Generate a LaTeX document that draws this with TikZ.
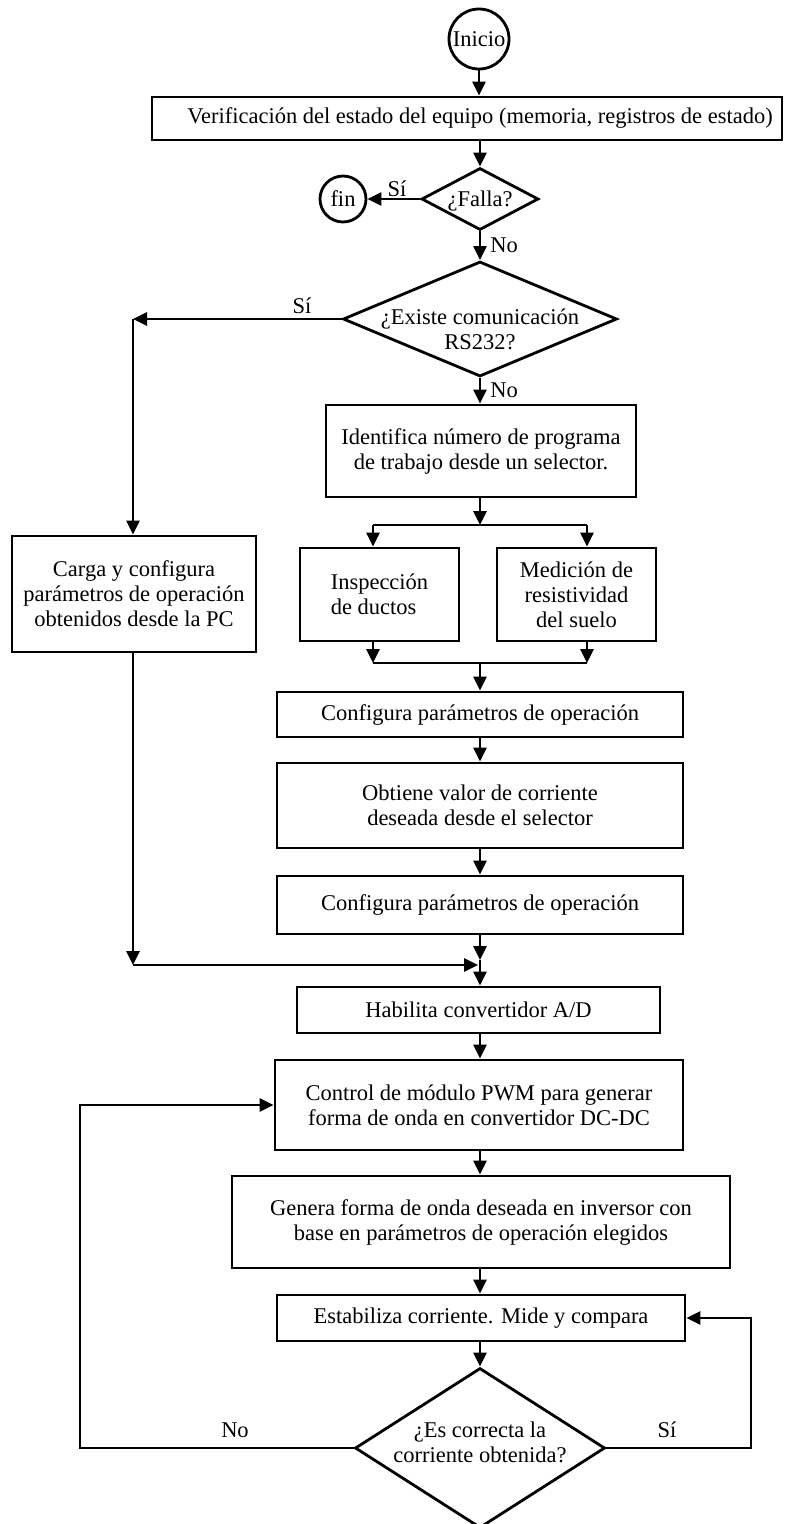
\documentclass[tikz,border=0pt]{standalone}
\usepackage{fontspec}
\setmainfont{Liberation Serif}
\usetikzlibrary{arrows.meta,shapes.geometric}
\begin{document}
\begin{tikzpicture}[x=1pt,y=-1pt,line width=2.8pt,
  box/.style={draw,rectangle,inner sep=0pt,align=center,font=\fontsize{22.5}{25}\selectfont},
  dia/.style={draw,diamond,inner sep=0pt},
  circ/.style={draw,circle,inner sep=0pt,font=\fontsize{22.5}{25}\selectfont},
  txt/.style={inner sep=0pt,align=center,font=\fontsize{22.5}{25}\selectfont},
  arr/.style={-{Triangle[length=14pt,width=13pt]}}]
\useasboundingbox (0,0) rectangle (789,1524);
% nodes
\node[circ,minimum size=60pt] (inicio) at (479,39) {Inicio};
\node[box,minimum width=630pt,minimum height=43pt] (verif) at (467,118.5) {\hspace*{26pt}Verificación del estado del equipo (memoria, registros de estado)};
\node[dia,minimum width=117pt,minimum height=62pt] (falla) at (480,199) {};
\node[txt] (fallat) at (480,201) {¿Falla?};
\node[circ,minimum size=46pt] (fin) at (343,199) {fin};
\node[dia,minimum width=274pt,minimum height=115pt] (rs) at (480,319) {};
\node[txt] (rst) at (480,329) {¿Existe comunicación\\RS232?};
\node[box,minimum width=310pt,minimum height=92pt] (ident) at (481,451) {Identifica número de programa\\de trabajo desde un selector.};
\node[box,minimum width=159pt,minimum height=93pt,align=left] (insp) at (379.5,594.5) {Inspección\\de ductos};
\node[box,minimum width=159pt,minimum height=93pt] (medic) at (576.5,594.5) {Medición de\\resistividad\\del suelo};
\node[box,minimum width=406pt,minimum height=45pt] (conf1) at (480,714.5) {Configura parámetros de operación};
\node[box,minimum width=406pt,minimum height=85pt] (obt) at (480,805.5) {Obtiene valor de corriente\\deseada desde el selector};
\node[box,minimum width=406pt,minimum height=58pt] (conf2) at (480,905) {Configura parámetros de operación};
\node[box,minimum width=244pt,minimum height=116pt] (carga) at (134,594) {Carga y configura\\parámetros de operación\\obtenidos desde la PC};
\node[box,minimum width=363pt,minimum height=46pt] (hab) at (478.5,1010) {Habilita convertidor A/D};
\node[box,minimum width=408pt,minimum height=90pt] (pwm) at (479,1105) {Control de módulo PWM para generar\\forma de onda en convertidor DC-DC};
\node[box,minimum width=498pt,minimum height=92pt] (gen) at (481,1222) {Genera forma de onda deseada en inversor con\\base en parámetros de operación elegidos};
\node[box,minimum width=408pt,minimum height=46pt] (est) at (481,1318) {Estabiliza corriente. Mide y compara};
\node[dia,minimum width=250pt,minimum height=160pt] (es) at (480,1448) {};
\node[txt] (est2) at (480,1442) {¿Es correcta la\\corriente obtenida?};
% labels
\node[txt] (l1) at (397,189) {Sí};
\node[txt] (l2) at (504,245) {No};
\node[txt] (l3) at (302,306) {Sí};
\node[txt] (l4) at (504,390) {No};
\node[txt] (l5) at (667,1430) {Sí};
\node[txt] (l6) at (235,1430) {No};
% coordinates
\coordinate (m0) at (480,0);
\coordinate (c1) at (133,319);
\coordinate (b0) at (480,525);
\coordinate (bl) at (373,525);
\coordinate (br) at (587,525);
\coordinate (ml) at (373,663);
\coordinate (mr) at (587,663);
\coordinate (mc) at (480,663);
\coordinate (j1) at (480,960);
\coordinate (j2) at (133,965);
\coordinate (j3) at (478,965);
\coordinate (r1) at (751,1448);
\coordinate (q1) at (80,1448);
% connectors
\draw[arr] (inicio.south) -- (inicio.south |- verif.north);
\draw[arr] (verif.south -| falla.north) -- (falla.north);
\draw[arr] (falla.west) -- (fin.east);
\draw[arr] (falla.south) -- (rs.north);
\draw[arr] (rs.west) -- (c1);
\draw[arr] (c1) -- (c1 |- carga.north);
\draw[arr] (rs.south) -- (rs.south |- ident.north);
\draw[arr] (ident.south -| b0) -- (b0);
\draw (bl) -- (br);
\draw[arr] (bl) -- (bl |- insp.north);
\draw[arr] (br) -- (br |- medic.north);
\draw[arr] (bl |- insp.south) -- (ml);
\draw[arr] (br |- medic.south) -- (mr);
\draw (ml) -- (mr);
\draw[arr] (mc) -- (conf1.north -| mc);
\draw[arr] (conf1.south -| m0) -- (obt.north -| m0);
\draw[arr] (obt.south -| m0) -- (conf2.north -| m0);
\draw[arr] (conf2.south -| j1) -- (j1);
\draw[arr] (c1 |- carga.south) -- (j2);
\draw[arr] (j2) -- (j3);
\draw[arr] (j1) -- (j1 |- hab.north);
\draw[arr] (hab.south -| m0) -- (pwm.north -| m0);
\draw[arr] (pwm.south -| m0) -- (gen.north -| m0);
\draw[arr] (gen.south -| m0) -- (est.north -| m0);
\draw[arr] (est.south -| m0) -- (es.north);
\draw[arr] (es.east) -- (r1) -- (r1 |- est.east) -- (est.east);
\draw[arr] (es.west) -- (q1) -- (q1 |- pwm.west) -- (pwm.west);
\end{tikzpicture}
\end{document}
